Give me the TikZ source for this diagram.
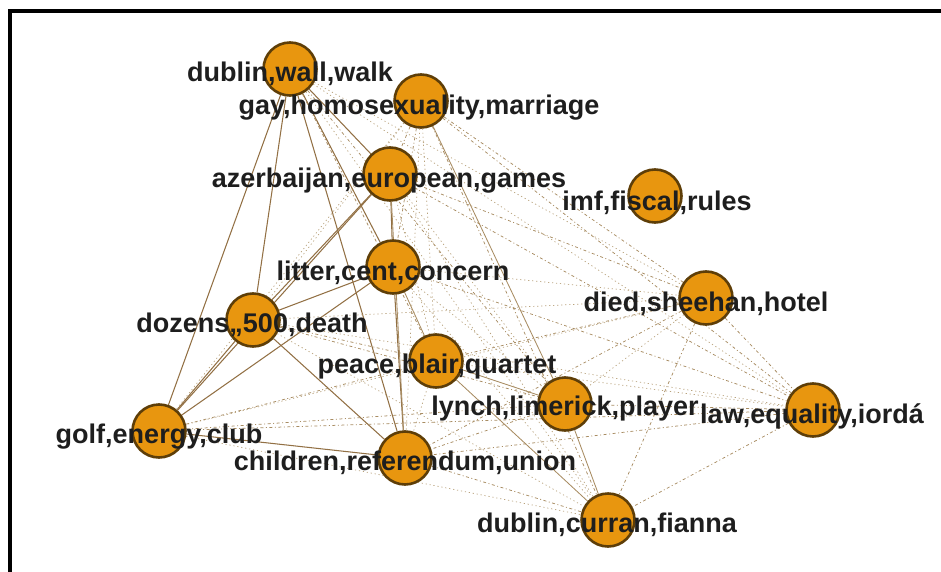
\documentclass[tikz,border=0pt]{standalone}
\usepackage{fontspec}
\setmainfont{Liberation Sans}
\usetikzlibrary{backgrounds}
\definecolor{nodefill}{HTML}{E8960F}
\definecolor{nodeline}{HTML}{5E3E08}
\definecolor{edgestrong}{HTML}{927044}
\definecolor{edgemid}{HTML}{A88C62}
\definecolor{edgelight}{HTML}{B8A27C}
\definecolor{labeltext}{HTML}{1E1E1E}
\tikzset{
  topic/.style={circle, fill=nodefill, draw=nodeline, line width=2.6pt,
    minimum size=53pt, inner sep=0pt},
  lbl/.style={anchor=base, inner sep=0pt, text=labeltext,
    font=\fontsize{27pt}{31pt}\selectfont\bfseries},
  strong/.style={draw=edgestrong, line width=1.05pt},
  midline/.style={draw=edgemid, line width=0.85pt},
  weakdash/.style={draw=edgemid, line width=0.75pt, dash pattern=on 3pt off 2.5pt on 1pt off 2.5pt},
  weakdot/.style={draw=edgelight, line width=0.7pt, dash pattern=on 1.2pt off 2.8pt},
  frameline/.style={draw=black, line width=4pt}
}
\begin{document}
\begin{tikzpicture}[x=1pt, y=-1pt]
\useasboundingbox (0,0) rectangle (941,572);
% outer frame (left and top edges)
\coordinate (fbl) at (9.5,580);
\coordinate (ftl) at (9.5,11.3);
\coordinate (ftr) at (950,11.3);
\draw[frameline] (fbl) -- (ftl) -- (ftr);

% topic circles
\node[topic] (DW)    at (290,69)  {};
\node[topic] (GAY)   at (421,101) {};
\node[topic] (AZ)    at (390,174) {};
\node[topic] (IMF)   at (655,196) {};
\node[topic] (LIT)   at (393,267) {};
\node[topic] (DIED)  at (706,298) {};
\node[topic] (DOZ)   at (253,320) {};
\node[topic] (PEACE) at (436,361) {};
\node[topic] (LYNCH) at (565,404) {};
\node[topic] (LAW)   at (813,410) {};
\node[topic] (GOLF)  at (159,431) {};
\node[topic] (CHILD) at (405,458) {};
\node[topic] (CURR)  at (608,520) {};

% connectors, kept beneath the circles
\begin{pgfonlayer}{background}
  % strong links
  \foreach \a/\b in {DW/GOLF, DW/DOZ, DW/AZ, DW/LIT, DW/CHILD, AZ/DOZ, AZ/GOLF,
      AZ/LIT, LIT/DOZ, LIT/GOLF, LIT/CHILD, DOZ/GOLF, DOZ/CHILD, GOLF/CHILD}
    \draw[strong] (\a) -- (\b);
  % medium links
  \foreach \a/\b in {GAY/LYNCH, PEACE/LYNCH, LYNCH/CURR, LIT/PEACE, PEACE/CURR, AZ/CHILD}
    \draw[midline] (\a) -- (\b);
  % dashed links
  \foreach \a/\b in {GAY/DIED, GAY/LAW, GAY/CURR, DIED/CURR, LAW/CURR, LAW/LYNCH,
      LAW/CHILD, LAW/GOLF, DIED/LAW, LYNCH/CHILD, CHILD/CURR, GOLF/LYNCH,
      GOLF/PEACE, DW/PEACE, DW/LYNCH, AZ/LAW, AZ/DIED, LIT/LAW, DIED/PEACE,
      DIED/CHILD, GAY/AZ, GAY/LIT, DOZ/PEACE, DOZ/LYNCH}
    \draw[weakdash] (\a) -- (\b);
  % dotted links
  \foreach \a/\b in {DW/DIED, DW/LAW, DW/CURR, GAY/DOZ, GAY/PEACE, GAY/GOLF,
      GAY/CHILD, AZ/PEACE, AZ/LYNCH, AZ/CURR, LIT/DIED, LIT/LYNCH, LIT/CURR,
      DIED/DOZ, DIED/LYNCH, DIED/GOLF, DOZ/LAW, DOZ/CURR, PEACE/LAW,
      PEACE/CHILD, GOLF/CURR}
    \draw[weakdot] (\a) -- (\b);
\end{pgfonlayer}

% topic labels
\node[lbl] (DWl)    at (290,82)  {dublin,wall,walk};
\node[lbl] (GAYl)   at (419,115) {gay,homosexuality,marriage};
\node[lbl] (AZl)    at (389,187) {azerbaijan,european,games};
\node[lbl] (IMFl)   at (657,210) {imf,fiscal,rules};
\node[lbl] (LITl)   at (393,280) {litter,cent,concern};
\node[lbl] (DIEDl)  at (706,311) {died,sheehan,hotel};
\node[lbl] (DOZl)   at (252,332) {dozens,,500,death};
\node[lbl] (PEACEl) at (437,373) {peace,blair,quartet};
\node[lbl] (LYNCHl) at (565,415) {lynch,limerick,player};
\node[lbl] (LAWl)   at (812,423) {law,equality,iordá};
\node[lbl] (GOLFl)  at (159,443) {golf,energy,club};
\node[lbl] (CHILDl) at (405,470) {children,referendum,union};
\node[lbl] (CURRl)  at (607,532) {dublin,curran,fianna};
\end{tikzpicture}
\end{document}
